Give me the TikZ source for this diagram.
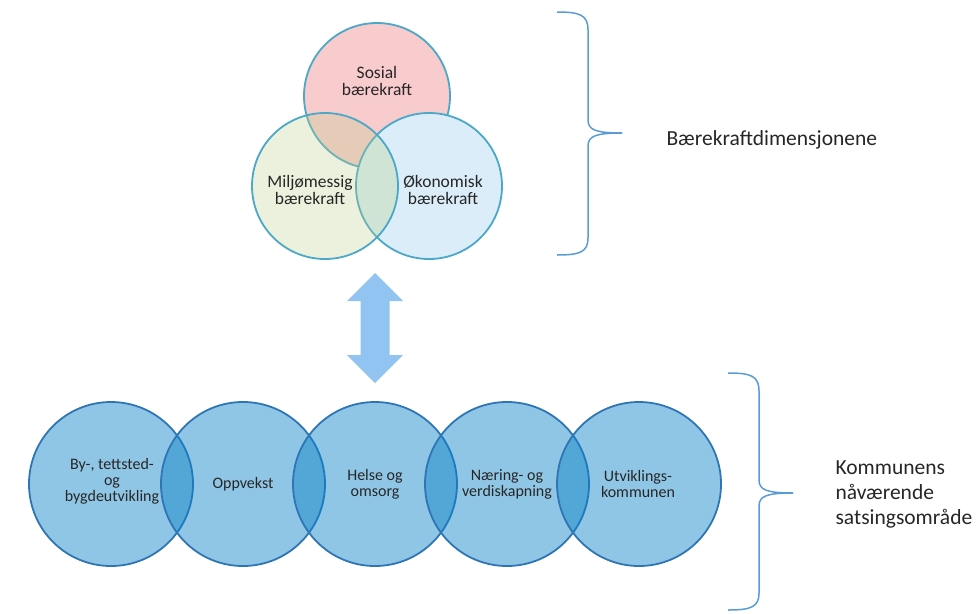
\documentclass[tikz,border=0pt]{standalone}
\usepackage{fontspec}
\setmainfont{Carlito}
\usepackage{xcolor}
\usepackage{tikz}
\usetikzlibrary{positioning}

\definecolor{sosialrosa}{RGB}{248,203,205}
\definecolor{okonomiblaa}{RGB}{218,237,248}
\definecolor{miljogronn}{RGB}{186,207,134}
\definecolor{kantblaa}{RGB}{75,168,200}
\definecolor{omradeblaa}{RGB}{9,129,197}
\definecolor{omradekant}{RGB}{46,117,182}
\definecolor{pilblaa}{RGB}{146,196,242}
\definecolor{klammeblaa}{RGB}{91,155,213}
\definecolor{tekstgraa}{RGB}{38,38,38}

\begin{document}
\begin{tikzpicture}[
    x=1pt, y=-1pt,
    dimensjon/.style={circle, draw=kantblaa, line width=1.8pt, minimum size=146pt, inner sep=0pt, outer sep=0pt},
    omrade/.style={circle, draw=omradekant, line width=1.8pt, fill=omradeblaa, fill opacity=0.45, minimum size=164pt, inner sep=0pt, outer sep=0pt},
    dimtekst/.style={align=center, text=tekstgraa, font=\fontsize{17.5}{17.5}\selectfont},
    omradetekst/.style={align=center, text=tekstgraa, font=\fontsize{16}{16}\selectfont},
    forklaring/.style={anchor=west, align=left, text=tekstgraa, font=\fontsize{21.5}{25}\selectfont},
    klamme/.style={draw=klammeblaa, line width=1.5pt}
]
\useasboundingbox (0,0) rectangle (976,613);

% Dimensjonene
\node[dimensjon, fill=sosialrosa] (sosial) at (377,96) {};
\node[dimensjon, fill=okonomiblaa] (okonomi) at (429,186) {};
\node[dimensjon, fill=miljogronn, fill opacity=0.29] (miljo) at (325,186) {};

\node[dimtekst] (sosialtekst) at (377,81) {Sosial\\bærekraft};
\node[dimtekst] (miljotekst) at (310,190) {Miljømessig\\bærekraft};
\node[dimtekst] (okonomitekst) at (443,190) {Økonomisk\\bærekraft};

% Pil
\coordinate (pil) at (375,328);
\fill[pilblaa, shift={(pil)}] (0,-55) -- (28,-27) -- (14.5,-27) -- (14.5,27) -- (28,27) -- (0,55)
    -- (-28,27) -- (-14.5,27) -- (-14.5,-27) -- (-28,-27) -- cycle;

% Satsingsomraader
\node[omrade] (by) at (111,484) {};
\node[omrade, right=-32pt of by] (oppvekst) {};
\node[omrade, right=-32pt of oppvekst] (helse) {};
\node[omrade, right=-32pt of helse] (naering) {};
\node[omrade, right=-32pt of naering] (utvikling) {};

\node[omradetekst] (bytekst) at (112,481) {By-, tettsted-\\og\\bygdeutvikling};
\node[omradetekst] (oppvekstekst) at (243,484) {Oppvekst};
\node[omradetekst] (helsetekst) at (375,484) {Helse og\\omsorg};
\node[omradetekst] (naeringtekst) at (507,484) {Næring- og\\verdiskapning};
\node[omradetekst] (utviklingtekst) at (638,484) {Utviklings-\\kommunen};

% Klammer
\coordinate (topptupp) at (622,133);
\coordinate (bunntupp) at (793,493);
\draw[klamme] (557,12) .. controls (580,12) and (588,15) .. (588,30) -- (588,120)
    .. controls (588,130) and (596,133) .. (topptupp);
\draw[klamme] (topptupp) .. controls (596,133) and (588,136) .. (588,146) -- (588,238)
    .. controls (588,252) and (580,255) .. (557,255);
\draw[klamme] (728,373) .. controls (751,373) and (759,376) .. (759,391) -- (759,480)
    .. controls (759,490) and (767,493) .. (bunntupp);
\draw[klamme] (bunntupp) .. controls (767,493) and (759,496) .. (759,506) -- (759,593)
    .. controls (759,607) and (751,610) .. (728,610);

\node[forklaring] (dimensjoner) at (663,140) {Bærekraftdimensjonene};
\node[forklaring] (satsing) at (832,494) {Kommunens\\nåværende\\satsingsområde};

\end{tikzpicture}
\end{document}
